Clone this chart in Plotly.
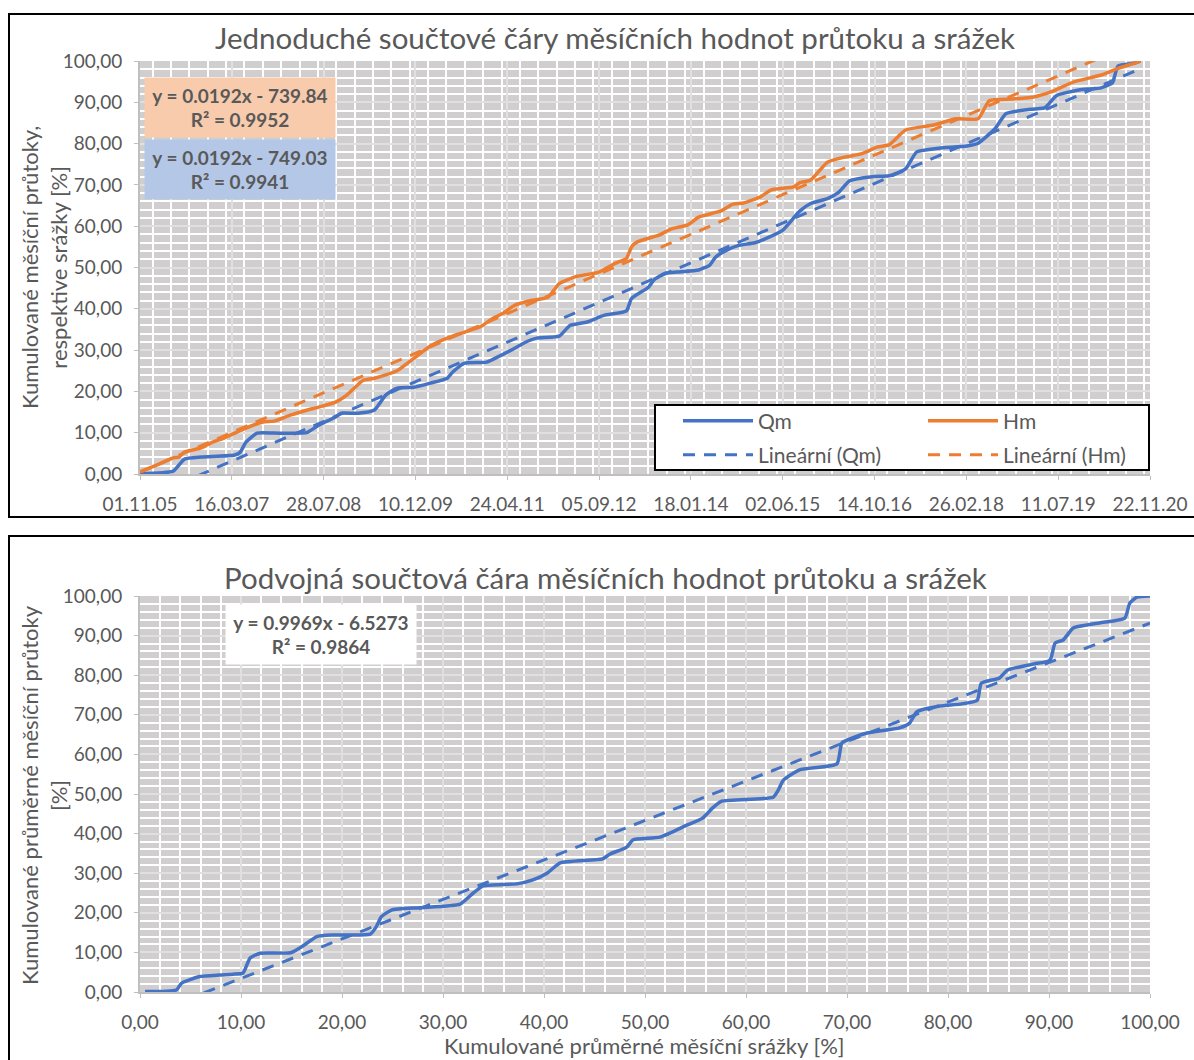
import numpy as np
import pandas as pd
import plotly.graph_objects as go

# --- data (cumulative %, months counted from 1. 11. 2005)
qm_mesic = [0, 6, 8, 11, 17, 18, 19, 21, 24, 29, 30, 32, 35, 36, 39, 42, 44, 46, 49, 52,
            55, 56, 58, 62, 64, 67, 69, 71, 75, 77, 80, 83, 87, 88, 91, 92, 94, 96, 100, 102,
            103, 105, 107, 110, 112, 115, 118, 120, 123, 125, 127, 131, 134, 137, 139, 143, 148, 150, 153, 155,
            160, 162, 164, 168, 172, 174, 175, 178, 179]
qm_proc = [0.1, 0.7, 3.6, 4.1, 4.6, 5.3, 7.7, 9.9, 9.9, 9.9, 10.1, 11.8, 13.8, 14.7, 14.7, 15.5, 19.1, 20.8, 21.0, 22.0,
           23.2, 24.7, 26.8, 27.1, 28.3, 30.4, 31.9, 32.9, 33.4, 36.0, 36.8, 38.4, 39.5, 42.5, 45.2, 47.0, 48.6, 48.9, 49.4, 50.6,
           52.5, 54.2, 55.3, 56.0, 57.0, 59.0, 63.6, 65.5, 66.7, 68.2, 71.0, 72.0, 72.2, 73.9, 78.0, 78.9, 79.4, 80.1, 83.6, 87.3,
           88.4, 88.7, 91.6, 93.0, 93.5, 94.7, 98.8, 99.5, 100.0]

hm_mesic = [0, 4, 6, 7, 8, 11, 13, 15, 17, 19, 22, 24, 27, 30, 32, 35, 37, 40, 42, 44,
            46, 49, 52, 55, 58, 61, 63, 65, 67, 70, 73, 75, 78, 82, 85, 87, 88, 89, 93, 95,
            98, 100, 104, 106, 108, 111, 113, 117, 118, 120, 123, 126, 129, 132, 134, 137, 142, 146, 150, 152,
            156, 160, 163, 167, 172, 175, 178, 179]
hm_proc = [0.5, 2.7, 3.9, 4.1, 5.3, 6.3, 7.7, 8.7, 9.9, 11.1, 12.6, 12.8, 14.3, 15.5, 16.2, 17.4, 19.1, 22.7, 23.2, 24.0,
           25.0, 28.0, 31.0, 32.9, 34.3, 35.7, 37.6, 38.9, 40.8, 42.0, 42.8, 46.1, 47.8, 48.8, 51.0, 52.2, 55.0, 56.2, 57.9, 59.3,
           60.3, 62.2, 63.7, 65.3, 65.6, 67.1, 68.8, 69.5, 70.5, 71.2, 75.5, 76.7, 77.5, 79.2, 79.7, 83.3, 84.5, 86.0, 86.0, 90.4,
           90.8, 91.3, 92.5, 94.9, 96.6, 98.2, 99.5, 100.0]

# podvojná součtová čára: x = kumulované srážky, y = kumulované průtoky
dvojna_hm = [0.5, 3.6, 4.1, 5.9, 7.9, 9.2, 10.2, 10.9, 11.9, 14.9, 16.0, 17.5, 19.1, 22.8, 23.4, 23.9, 24.9, 27.7, 31.7, 33.0,
             34.0, 37.3, 38.9, 40.3, 41.6, 45.8, 46.5, 48.2, 48.8, 51.5, 54.2, 55.7, 56.7, 57.6, 62.7, 63.2, 63.7, 65.3, 69.0, 69.5,
             70.8, 72.0, 75.2, 76.2, 76.9, 79.2, 81.2, 82.9, 83.3, 85.1, 85.9, 88.4, 90.1, 90.6, 91.4, 92.4, 95.0, 97.5, 98.0, 98.7,
             100.0]
dvojna_qm = [0.1, 0.5, 2.2, 3.9, 4.3, 4.5, 4.8, 8.6, 9.8, 9.9, 11.4, 14.0, 14.4, 14.6, 16.5, 19.0, 20.7, 21.3, 22.2, 25.0,
             26.8, 27.3, 28.3, 30.0, 32.6, 33.6, 34.8, 36.6, 38.4, 39.1, 42.2, 43.9, 46.5, 48.2, 49.2, 51.0, 53.5, 56.1, 57.6, 62.9,
             64.4, 65.4, 66.7, 67.9, 70.7, 72.2, 72.7, 73.7, 78.0, 79.3, 81.3, 82.8, 83.8, 88.1, 88.9, 91.9, 93.2, 94.4, 98.2, 99.7,
             100.0]
dvojna_trend = [0.9969, -6.5273]   # y = kx + q z grafu

BLUE, ORANGE, TEXT = "#4472C4", "#ED7D31", "#595959"
FONT = "Lato"
W, H = 1194, 1060

start = pd.Timestamp("2005-11-01")
qm_dat = [start + pd.DateOffset(months=m) for m in qm_mesic]
hm_dat = [start + pd.DateOffset(months=m) for m in hm_mesic]


def linearni(dates, vals):
    # Excel-like linear trend over the data span
    t = np.array([(d - start).days for d in dates], dtype=float)
    k, q = np.polyfit(t, vals, 1)
    return [dates[0], dates[-1]], [q + k * t[0], q + k * t[-1]]


px = lambda v: v / W
py = lambda v: 1 - v / H

fig = go.Figure()
fig.add_trace(go.Scatter(x=qm_dat, y=qm_proc, name="Qm", mode="lines",
                         line=dict(color=BLUE, width=3.5, shape="spline", smoothing=0.5)))
fig.add_trace(go.Scatter(x=hm_dat, y=hm_proc, name="Hm", mode="lines",
                         line=dict(color=ORANGE, width=3.5, shape="spline", smoothing=0.5)))
tx, ty = linearni(qm_dat, qm_proc)
fig.add_trace(go.Scatter(x=tx, y=ty, name="Lineární (Qm)", mode="lines", legend="legend2",
                         line=dict(color=BLUE, width=3, dash="12px,9px")))
tx, ty = linearni(hm_dat, hm_proc)
fig.add_trace(go.Scatter(x=tx, y=ty, name="Lineární (Hm)", mode="lines", legend="legend2",
                         line=dict(color=ORANGE, width=3, dash="12px,9px")))

fig.add_trace(go.Scatter(x=dvojna_hm, y=dvojna_qm, mode="lines", showlegend=False,
                         xaxis="x2", yaxis="y2",
                         line=dict(color=BLUE, width=3.5, shape="spline", smoothing=0.5)))
tx = [dvojna_hm[0], dvojna_hm[-1]]
fig.add_trace(go.Scatter(x=tx, y=[dvojna_trend[0] * v + dvojna_trend[1] for v in tx], mode="lines",
                         showlegend=False, xaxis="x2", yaxis="y2",
                         line=dict(color=BLUE, width=3, dash="12px,9px")))

osa = dict(showgrid=True, gridcolor="#E0E0E0", gridwidth=2, zeroline=False,
           showline=True, linecolor="#BFBFBF", linewidth=2,
           ticks="outside", ticklen=4, tickcolor="#BFBFBF",
           tickfont=dict(size=19, color=TEXT, family=FONT), ticklabelstandoff=8,
           minor=dict(showgrid=True, gridcolor="white", gridwidth=2))

legenda = dict(orientation="h", x=px(678), xanchor="left", yanchor="middle",
               entrywidth=160, itemwidth=70, bgcolor="rgba(0,0,0,0)",
               font=dict(size=21, color=TEXT, family=FONT))

day = 86400000
fig.update_layout(
    xaxis=dict(osa, type="date", domain=[px(140), px(1150)], anchor="y",
               range=["2005-11-01", "2020-11-22"], tick0="2005-11-01", dtick=500 * day,
               tickformat="%d.%m.%y", minor=dict(osa["minor"], dtick=100 * day)),
    yaxis=dict(osa, domain=[py(474), py(61)], anchor="x", range=[0, 100], dtick=10,
               tickformat=".2f", minor=dict(osa["minor"], dtick=2)),
    xaxis2=dict(osa, domain=[px(140), px(1150)], anchor="y2", range=[0, 100], dtick=10,
                tickformat=".2f", minor=dict(osa["minor"], dtick=2)),
    yaxis2=dict(osa, domain=[py(992), py(596)], anchor="x2", range=[0, 100], dtick=10,
                tickformat=".2f", minor=dict(osa["minor"], dtick=2)),
    plot_bgcolor="#D0CECE", paper_bgcolor="white",
    separators=", ",
    width=W, height=H, margin=dict(l=0, r=0, t=0, b=0, autoexpand=False),
    font=dict(family=FONT, color=TEXT),
    legend=dict(legenda, y=py(421)),
    legend2=dict(legenda, y=py(455)),
)

# chart frames and legend box
fig.add_shape(type="rect", xref="paper", yref="paper", x0=px(9), x1=px(1210), y0=py(517), y1=py(14),
              line=dict(color="black", width=2), layer="below")
fig.add_shape(type="rect", xref="paper", yref="paper", x0=px(9), x1=px(1210), y0=py(1080), y1=py(536),
              line=dict(color="black", width=2), layer="below")
fig.add_shape(type="rect", xref="paper", yref="paper", x0=px(655), x1=px(1149), y0=py(470), y1=py(405),
              line=dict(color="black", width=2), fillcolor="white", layer="above")


def text(x, y, s, size, **kw):
    kw.setdefault("xanchor", "center")
    kw.setdefault("yanchor", "middle")
    fig.add_annotation(xref="paper", yref="paper", x=px(x), y=py(y), text=s, showarrow=False,
                       font=dict(size=size, color=TEXT, family=FONT), **kw)


text(615, 38, "Jednoduché součtové čáry měsíčních hodnot průtoku a srážek", 29.5)
text(44, 268, "Kumulované měsíční průtoky,<br>respektive srážky [%]", 22, textangle=-90)
text(605, 577, "Podvojná součtová čára měsíčních hodnot průtoku a srážek", 29.5)
text(44, 795, "Kumulované průměrné měsíční průtoky<br>[%]", 22, textangle=-90)
text(645, 1045, "Kumulované průměrné měsíční srážky [%]", 22)

rovnice = dict(xanchor="left", yanchor="top", width=186, height=55, borderpad=2, align="center")
text(144, 77, "<b>y = 0.0192x - 739.84<br>R² = 0.9952</b>", 19, bgcolor="#F8CBAD", **rovnice)
text(144, 139, "<b>y = 0.0192x - 749.03<br>R² = 0.9941</b>", 19, bgcolor="#B4C7E7", **rovnice)
text(225, 604, "<b>y = 0.9969x - 6.5273<br>R² = 0.9864</b>", 19, bgcolor="white", **rovnice)

fig.write_html("out.html", config={"displayModeBar": False},
               post_script="document.body.style.margin = '0';")
